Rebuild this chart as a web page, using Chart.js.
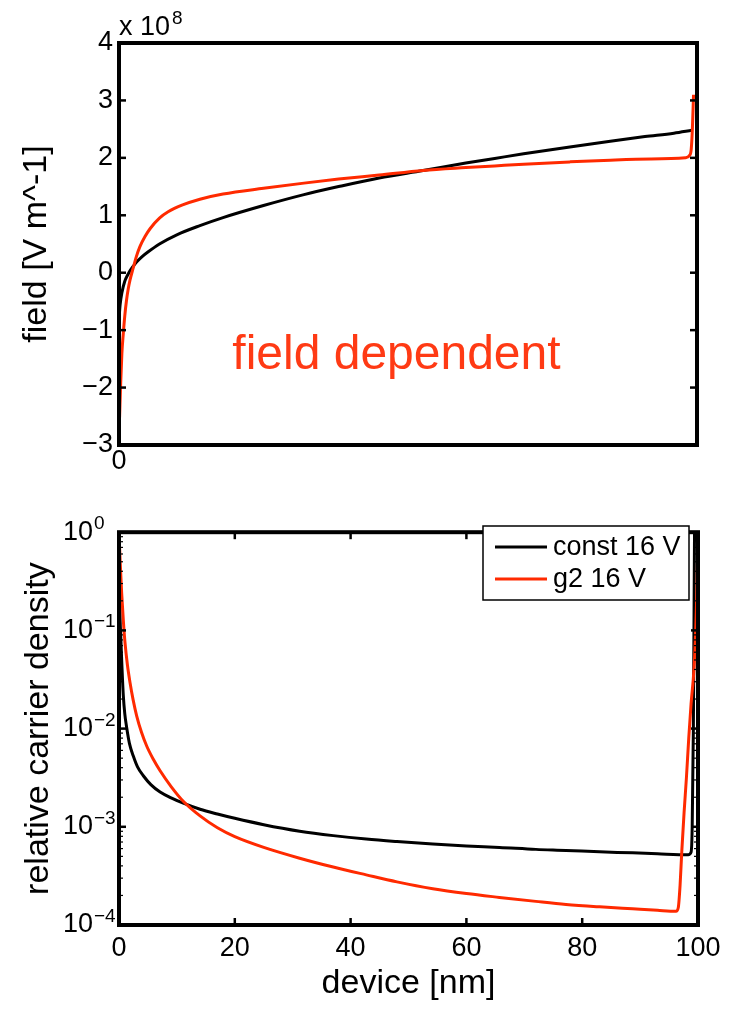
<!DOCTYPE html>
<html><head><meta charset="utf-8">
<script src="https://cdn.jsdelivr.net/npm/chart.js@4.4.0/dist/chart.umd.min.js"></script>
<style>
html,body{margin:0;padding:0;background:#fff;}
#wrap{position:relative;width:738px;height:1011px;background:#fff;overflow:hidden;}
canvas{position:absolute;left:0;}
</style></head><body>
<div id="wrap">
<canvas id="topChart" width="738" height="490" style="top:0px"></canvas>
<canvas id="botChart" width="738" height="521" style="top:490px"></canvas>
</div>
<script>
// ---------- data ----------
const seriesLabels = ['const 16 V', 'g2 16 V'];

// top panel: field in units of 1e8 V/m, position in nm
const fieldPosConst = [0,0.2,0.5,1,1.5,2,3,4,5,7,10,14,18,25,32,38,45,52.6,60,65,70,78,85,91,96,99.1];
const fieldConst    = [-0.80,-0.55,-0.35,-0.15,-0.04,0.05,0.18,0.28,0.36,0.50,0.66,0.82,0.96,1.17,1.36,1.50,1.65,1.78,1.91,1.99,2.07,2.19,2.29,2.37,2.43,2.48];
const fieldPosG2    = [0.1,0.3,0.5,0.75,1.0,1.3,1.6,1.9,2.45,3,3.6,4.5,5.4,7,8.5,11,14,18,25,32,38,45,52.6,60,65,70,78,85,92,98.0,98.7,99.0,99.2,99.4];
const fieldG2       = [-2.52,-1.9,-1.4,-1.05,-0.75,-0.48,-0.28,-0.13,0.08,0.28,0.45,0.63,0.77,0.95,1.06,1.18,1.28,1.37,1.47,1.56,1.63,1.70,1.78,1.83,1.86,1.89,1.93,1.96,1.98,2.00,2.04,2.15,2.5,3.1];

// bottom panel: relative carrier density
const densPosConst = [0,0.1,0.17,0.3,0.46,0.74,1.0,1.33,1.8,2.47,3.2,4.2,5.5,7.1,9,11.1,14,17,20,25,31.2,37,42.7,48,54.2,60,65.7,72,77.2,83,88.7,93,98.3,98.8,99.0,99.2,99.3,99.4];
const densConst    = [1.0,0.398,0.155,0.0891,0.0501,0.0219,0.0141,0.0102,0.00708,0.00525,0.00407,0.00331,0.00269,0.00226,0.00197,0.00174,0.00151,0.00135,0.00122,0.00105,0.000902,0.000813,0.000750,0.000708,0.000668,0.000638,0.000617,0.000589,0.000575,0.000556,0.000543,0.000531,0.000519,0.000550,0.001,0.01,0.1,1.0];
const densPosG2    = [0,0.2,0.46,0.75,1.03,1.45,1.9,2.45,3.05,3.9,4.8,5.9,7.1,9,11.1,14,17,20,25,31.2,37,42.7,48,54.2,60,65.7,72,77.2,83,88.7,93,96.2,96.6,96.9,97.2,97.6,98.0,98.4,98.8,99.3,99.6,99.85,100];
const densG2       = [1.0,0.501,0.240,0.126,0.0759,0.0447,0.0295,0.0195,0.0135,0.00912,0.00661,0.00490,0.00372,0.00257,0.00182,0.00129,0.000977,0.000794,0.000617,0.000479,0.000389,0.000324,0.000275,0.000234,0.000209,0.000191,0.000174,0.000162,0.000153,0.000146,0.000141,0.000138,0.000151,0.000251,0.000562,0.00141,0.00316,0.00794,0.0178,0.0398,0.1,0.316,1.0];

// ticks
const fieldTicks = [-3,-2,-1,0,1,2,3,4];
const fieldXTicks = [0];
const deviceTicks = [0,20,40,60,80,100];
const densityTicks = [1e-4,1e-3,1e-2,1e-1,1];
const densityExponents = ['\u22124','\u22123','\u22122','\u22121','0'];
const densityMinor = [2e-4,3e-4,4e-4,5e-4,6e-4,7e-4,8e-4,9e-4,2e-3,3e-3,4e-3,5e-3,6e-3,7e-3,8e-3,9e-3,2e-2,3e-2,4e-2,5e-2,6e-2,7e-2,8e-2,9e-2,0.2,0.3,0.4,0.5,0.6,0.7,0.8,0.9];
const fieldMultiplierBase = 'x 10';
const fieldMultiplierExp = '8';
const annotationText = 'field dependent';

// ---------- styling ----------
const FONT = "'Liberation Sans', Arial, Helvetica, sans-serif";
const TICK_SIZE = 27;
const BLACK = '#000000';
const RED = '#ff2a00';
const TEXT_RED = '#ff3a14';

const toXY = (xs, ys) => xs.map((x, i) => ({x: x, y: ys[i]}));
const minus = v => String(v).replace('-', '\u2212');

function framePlugin(minorY) {
  return {
    id: 'frameTicks',
    afterDraw(chart) {
      const {ctx, chartArea: a, scales} = chart;
      ctx.save();
      ctx.strokeStyle = '#000';
      const seg = (x1, y1, x2, y2) => { ctx.beginPath(); ctx.moveTo(x1, y1); ctx.lineTo(x2, y2); ctx.stroke(); };
      const TL = 7;
      ctx.lineWidth = 2.5;
      scales.y.ticks.forEach(t => {
        const p = scales.y.getPixelForValue(t.value);
        seg(a.left, p, a.left + TL, p);
        seg(a.right, p, a.right - TL, p);
      });
      scales.x.ticks.forEach(t => {
        const p = scales.x.getPixelForValue(t.value);
        seg(p, a.bottom, p, a.bottom - TL);
        seg(p, a.top, p, a.top + TL);
      });
      if (minorY) {
        ctx.lineWidth = 1.2;
        minorY.forEach(v => {
          const p = scales.y.getPixelForValue(v);
          seg(a.left, p, a.left + 4, p);
          seg(a.right, p, a.right - 4, p);
        });
      }
      ctx.lineWidth = 4;
      ctx.strokeRect(a.left, a.top, a.right - a.left, a.bottom - a.top);
      ctx.restore();
    }
  };
}

const topExtras = {
  id: 'topExtras',
  afterDraw(chart) {
    const {ctx, chartArea: a, scales} = chart;
    ctx.save();
    ctx.fillStyle = '#000';
    ctx.textAlign = 'left';
    ctx.textBaseline = 'alphabetic';
    ctx.font = TICK_SIZE + 'px ' + FONT;
    ctx.fillText(fieldMultiplierBase, a.left, a.top - 8);
    const w = ctx.measureText(fieldMultiplierBase).width;
    ctx.font = '19px ' + FONT;
    ctx.fillText(fieldMultiplierExp, a.left + w + 2, a.top - 19);
    // annotation
    ctx.fillStyle = TEXT_RED;
    ctx.font = '48px ' + FONT;
    ctx.textAlign = 'center';
    ctx.fillText(annotationText, scales.x.getPixelForValue(48), scales.y.getPixelForValue(-1.67));
    ctx.restore();
  }
};

const botExtras = {
  id: 'botExtras',
  afterDraw(chart) {
    const {ctx, chartArea: a, scales} = chart;
    ctx.save();
    ctx.fillStyle = '#000';
    // exponents of the log tick labels
    ctx.font = '19px ' + FONT;
    ctx.textAlign = 'left';
    ctx.textBaseline = 'alphabetic';
    densityTicks.forEach((v, i) => {
      const p = scales.y.getPixelForValue(v);
      ctx.fillText(densityExponents[i], 94, p - 3);
    });
    // legend
    const bx = 483, by = 36, bw = 206, bh = 74;
    ctx.fillStyle = '#fff';
    ctx.fillRect(bx, by, bw, bh);
    ctx.strokeStyle = '#000';
    ctx.lineWidth = 1.5;
    ctx.strokeRect(bx, by, bw, bh);
    ctx.font = TICK_SIZE + 'px ' + FONT;
    ctx.textBaseline = 'middle';
    chart.data.datasets.forEach((ds, i) => {
      const y = by + 21 + i * 32;
      ctx.strokeStyle = ds.borderColor;
      ctx.lineWidth = 3;
      ctx.beginPath(); ctx.moveTo(bx + 12, y); ctx.lineTo(bx + 64, y); ctx.stroke();
      ctx.fillStyle = '#000';
      ctx.fillText(ds.label, bx + 70, y + 1);
    });
    ctx.restore();
  }
};

const common = {
  responsive: false,
  animation: false,
  devicePixelRatio: 1,
  plugins: {legend: {display: false}, tooltip: {enabled: false}},
};
const noGrid = {display: false, drawTicks: false};

new Chart(document.getElementById('topChart'), {
  type: 'line',
  data: {datasets: [
    {label: seriesLabels[0], data: toXY(fieldPosConst, fieldConst), borderColor: BLACK, borderWidth: 3, pointRadius: 0, cubicInterpolationMode: 'monotone', fill: false, order: 1},
    {label: seriesLabels[1], data: toXY(fieldPosG2, fieldG2), borderColor: RED, borderWidth: 3, pointRadius: 0, cubicInterpolationMode: 'monotone', fill: false, order: 0}
  ]},
  options: Object.assign({}, common, {
    layout: {padding: {left: 0, right: 41, top: 43, bottom: 0}},
    scales: {
      x: {type: 'linear', min: 0, max: 100,
        grid: noGrid, border: {display: false},
        afterBuildTicks: s => { s.ticks = fieldXTicks.map(v => ({value: v})); },
        ticks: {font: {family: FONT, size: TICK_SIZE}, color: '#000', padding: 0, maxRotation: 0, autoSkip: false},
        afterFit: s => { s.height = 45; }
      },
      y: {type: 'linear', min: -3, max: 4,
        grid: noGrid, border: {display: false},
        afterBuildTicks: s => { s.ticks = fieldTicks.map(v => ({value: v})); },
        ticks: {font: {family: FONT, size: TICK_SIZE}, color: '#000', padding: 6, callback: v => minus(v)},
        title: {display: true, text: 'field [V m^-1]', font: {family: FONT, size: 34}, color: '#000', padding: {top: 16, bottom: 0}},
        afterFit: s => { s.width = 119; }
      }
    }
  }),
  plugins: [framePlugin(null), topExtras]
});

new Chart(document.getElementById('botChart'), {
  type: 'line',
  data: {datasets: [
    {label: seriesLabels[0], data: toXY(densPosConst, densConst), borderColor: BLACK, borderWidth: 3, pointRadius: 0, cubicInterpolationMode: 'monotone', fill: false, order: 1},
    {label: seriesLabels[1], data: toXY(densPosG2, densG2), borderColor: RED, borderWidth: 3, pointRadius: 0, cubicInterpolationMode: 'monotone', fill: false, order: 0}
  ]},
  options: Object.assign({}, common, {
    layout: {padding: {left: 0, right: 40, top: 27, bottom: 0}},
    scales: {
      x: {type: 'linear', min: 0, max: 100,
        grid: noGrid, border: {display: false},
        afterBuildTicks: s => { s.ticks = deviceTicks.map(v => ({value: v})); },
        ticks: {font: {family: FONT, size: TICK_SIZE}, color: '#000', padding: 7, maxRotation: 0, autoSkip: false},
        title: {display: true, text: 'device [nm]', font: {family: FONT, size: 34}, color: '#000', padding: {top: 0, bottom: 7}},
        afterFit: s => { s.height = 86; }
      },
      y: {type: 'logarithmic', min: 1e-4, max: 1,
        grid: noGrid, border: {display: false},
        afterBuildTicks: s => { s.ticks = densityTicks.map(v => ({value: v})); },
        ticks: {font: {family: FONT, size: TICK_SIZE}, color: '#000', padding: 26, callback: () => '10'},
        title: {display: true, text: 'relative carrier density', font: {family: FONT, size: 34}, color: '#000', padding: {top: 18, bottom: 0}},
        afterFit: s => { s.width = 119; }
      }
    }
  }),
  plugins: [framePlugin(densityMinor), botExtras]
});
</script>
</body></html>
